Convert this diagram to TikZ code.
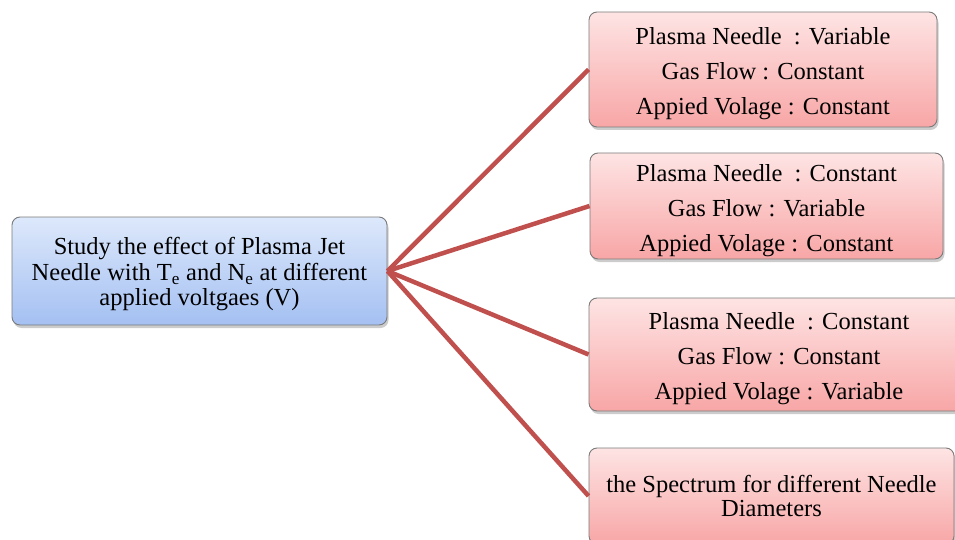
\documentclass[tikz,border=0pt]{standalone}
\usepackage{fontspec}
\setmainfont{Liberation Serif}
\usetikzlibrary{shadows}
\definecolor{linkred}{HTML}{C0504D}
\definecolor{bluetop}{HTML}{DDE8FB}
\definecolor{bluebot}{HTML}{A4C0F2}
\definecolor{pinktop}{HTML}{FEE4E4}
\definecolor{pinkbot}{HTML}{F8A6A6}
\definecolor{edgegray}{HTML}{7A7A7A}
\newcommand{\topstrut}[1]{\rule{0pt}{#1}}
\tikzset{
  x=1pt, y=-1pt,
  boxbase/.style={draw=edgegray, line width=0.9pt, rounded corners=8pt, align=center,
    inner sep=0pt, font=\fontsize{24.5}{25.5}\selectfont,
    drop shadow={opacity=0.4, shadow xshift=1.5pt, shadow yshift=-3pt}},
  mainbox/.style={boxbase, top color=bluetop, bottom color=bluebot},
  subbox/.style={boxbase, top color=pinktop, bottom color=pinkbot},
  link/.style={draw=linkred, line width=4.5pt}
}
\begin{document}
\begin{tikzpicture}
\useasboundingbox (0,0) rectangle (955,540);
\clip (0,0) rectangle (955,540);
\node[mainbox, minimum width=375pt, minimum height=108pt] (main) at (199.5,271)
  {\topstrut{24pt}Study the effect of Plasma Jet\\Needle with T\textsubscript{e} and N\textsubscript{e} at different\\applied voltgaes (V)};
\node[subbox, minimum width=348pt, minimum height=115pt, font=\fontsize{24.5}{35}\selectfont] (b1) at (763,69.5)
  {\topstrut{26pt}Plasma Needle~ : Variable\\Gas Flow : Constant\\Appied Volage : Constant};
\node[subbox, minimum width=353pt, minimum height=106pt, font=\fontsize{24.5}{35}\selectfont] (b2) at (766.5,206)
  {\topstrut{26pt}Plasma Needle~ : Constant\\Gas Flow : Variable\\Appied Volage : Constant};
\node[subbox, minimum width=380pt, minimum height=113pt, font=\fontsize{24.5}{35}\selectfont] (b3) at (779,354.5)
  {\topstrut{26pt}Plasma Needle~ : Constant\\Gas Flow : Constant\\Appied Volage : Variable};
\node[subbox, minimum width=365pt, minimum height=96pt, font=\fontsize{24.5}{24}\selectfont] (b4) at (771.5,496)
  {the Spectrum for different Needle\\Diameters};
\draw[link] (main.east) -- (b1.west);
\draw[link] (main.east) -- (b2.west);
\draw[link] (main.east) -- (b3.west);
\draw[link] (main.east) -- (b4.west);
\end{tikzpicture}
\end{document}
